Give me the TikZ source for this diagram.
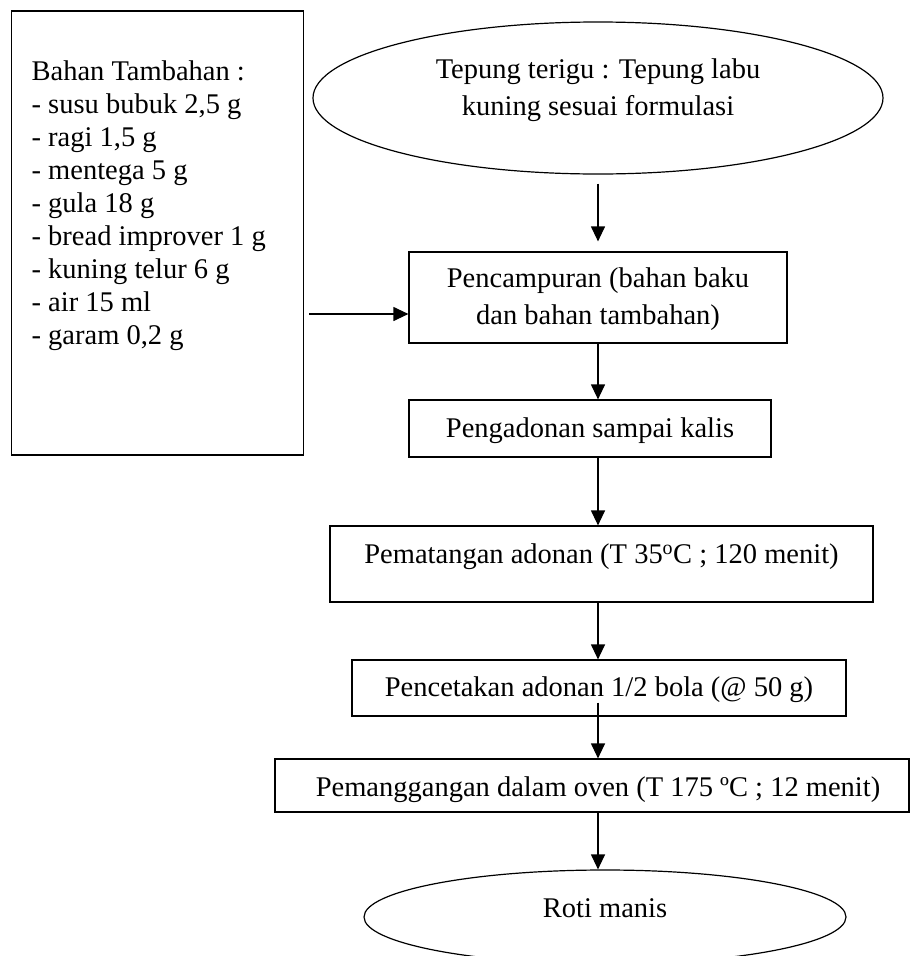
\documentclass[tikz,border=0pt]{standalone}
\usepackage{fontspec}
\setmainfont{Liberation Serif}
\usetikzlibrary{arrows.meta,shapes.geometric}
\newcommand\flowfont{\fontsize{28.5bp}{37.5bp}\selectfont}
\tikzset{
  shapeline/.style={draw=black, line width=1.2bp, inner sep=0pt, font=\flowfont, text=black},
  procbox/.style={shapeline, rectangle, anchor=base},
  termell/.style={shapeline, ellipse, anchor=base},
  flowarrow/.style={draw=black, line width=1.2bp, -{Triangle[length=15bp,width=14bp]}},
}
\begin{document}
\begin{tikzpicture}[x=1bp, y=-1bp]
\useasboundingbox (0,0) rectangle (910,956);
\clip (0,0) rectangle (910,956);

% left box with additional ingredients
\node[procbox, minimum width=292bp, text height=69bp, text depth=375bp, anchor=base west] (extra) at (11,80)
  {\makebox[292bp][l]{\hspace{20bp}\fontsize{28.5bp}{33bp}\selectfont\begin{tabular}[t]{@{}l@{}}Bahan Tambahan :\\- susu bubuk 2,5 g\\- ragi 1,5 g\\- mentega 5 g\\- gula 18 g\\- bread improver 1 g\\- kuning telur 6 g\\- air 15 ml\\- garam 0,2 g\end{tabular}}};

% start ellipse
\node[termell, minimum width=570bp, minimum height=152bp, text height=20bp, text depth=60bp] (flour) at (598,78)
  {\begin{tabular}[t]{@{}c@{}}Tepung terigu : Tepung labu\\kuning sesuai formulasi\end{tabular}};

% process boxes
\node[procbox, minimum width=378bp, text height=35bp, text depth=56bp] (mix) at (598,287)
  {\begin{tabular}[t]{@{}c@{}}Pencampuran (bahan baku\\dan bahan tambahan)\end{tabular}};
\node[procbox, minimum width=362bp, text height=37bp, text depth=20bp] (knead) at (590,437)
  {Pengadonan sampai kalis};
\node[procbox, minimum width=543bp, text height=37bp, text depth=39bp] (proof) at (601.5,563)
  {Pematangan adonan (T 35\textsuperscript{o}C ; 120 menit)};
\node[procbox, minimum width=494bp, text height=36bp, text depth=20bp] (mould) at (599,696)
  {Pencetakan adonan 1/2 bola (@ 50 g)};
\node[procbox, minimum width=634bp, text height=37bp, text depth=16bp] (bake) at (592,796)
  {\hspace*{12bp}Pemanggangan dalam oven (T 175 ºC ; 12 menit)};

% end ellipse
\node[termell, minimum width=482bp, minimum height=94bp, text height=20bp, text depth=20bp] (bread) at (605,917)
  {Roti manis};

% connectors
\coordinate (axis) at (598,0);
\coordinate (feedy) at (0,314);
\coordinate (feed) at (mix.west |- feedy);
\draw[flowarrow, shorten <=9bp, shorten >=10bp] (flour.south -| axis) -- (mix.north -| axis);
\draw[flowarrow] (mix.south -| axis) -- (knead.north -| axis);
\draw[flowarrow] (knead.south -| axis) -- (proof.north -| axis);
\draw[flowarrow] (proof.south -| axis) -- (mould.north -| axis);
\draw[flowarrow, shorten <=-14bp] (mould.south -| axis) -- (bake.north -| axis);
\draw[flowarrow] (bake.south -| axis) -- (bread.north -| axis);
\draw[flowarrow, shorten <=5bp] (extra.east |- feedy) -- (feed);
\end{tikzpicture}
\end{document}
